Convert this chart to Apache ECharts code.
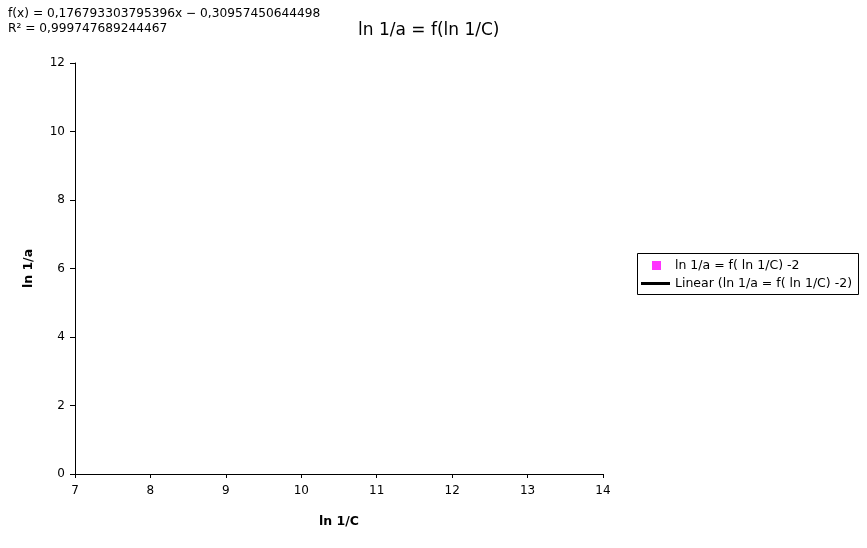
<!DOCTYPE html>
<html>
<head>
<meta charset="utf-8">
<script src="https://cdn.jsdelivr.net/npm/echarts@6/dist/echarts.min.js"></script>
<style>html,body{margin:0;padding:0;background:#fff;}#c{width:867px;height:548px;}</style>
</head>
<body>
<div id="c"></div>
<script>
// Data (the reference plot shows no visible points)
var xValues = [];
var yValues = [];
var xTicks = [7, 8, 9, 10, 11, 12, 13, 14];
var yTicks = [0, 2, 4, 6, 8, 10, 12];
var seriesName = 'ln 1/a = f( ln 1/C) -2';
var trendName = 'Linear (ln 1/a = f( ln 1/C) -2)';
var equationText = 'f(x) = 0,176793303795396x \u2212 0,30957450644498';
var r2Text = 'R\u00b2 = 0,999747689244467';
var slope = 0.176793303795396, intercept = -0.30957450644498;

var pts = xValues.map(function(x, i){ return [x, yValues[i]]; });
var trend = xValues.length ? [[Math.min.apply(null,xValues), slope*Math.min.apply(null,xValues)+intercept],[Math.max.apply(null,xValues), slope*Math.max.apply(null,xValues)+intercept]] : [];

var font = 'DejaVu Sans';
var chart = echarts.init(document.getElementById('c'), null, {renderer:'canvas'});
chart.setOption({
  animation: false,
  backgroundColor: '#fff',
  textStyle: {fontFamily: font},
  title: [
    {text: 'ln 1/a = f(ln 1/C)', left: 353, top: 17, padding: 5,
     textStyle: {fontFamily: font, fontSize: 17, fontWeight: 500, color: '#000'}},
    {text: equationText + '\n' + r2Text, left: 3, top: 1, padding: 5,
     textStyle: {fontFamily: font, fontSize: 12.2, fontWeight: 'normal', color: '#000', lineHeight: 15}}
  ],
  grid: {left: 75, top: 63, right: 264, bottom: 74, containLabel: false},
  xAxis: {
    type: 'value', min: xTicks[0], max: xTicks[xTicks.length-1], interval: 1,
    name: 'ln 1/C', nameLocation: 'middle', nameGap: 41,
    nameTextStyle: {fontFamily: font, fontSize: 12.5, fontWeight: 'bold', color: '#000'},
    axisLine: {onZero: false, lineStyle: {color: '#000', width: 1}},
    axisTick: {show: true, length: 4, inside: false, lineStyle: {color: '#000'}},
    axisLabel: {fontFamily: font, fontSize: 12, color: '#000', margin: 11},
    splitLine: {show: false}
  },
  yAxis: {
    type: 'value', min: yTicks[0], max: yTicks[yTicks.length-1], interval: 2,
    name: 'ln 1/a', nameLocation: 'middle', nameGap: 40, nameRotate: 90,
    nameTextStyle: {fontFamily: font, fontSize: 12.5, fontWeight: 'bold', color: '#000'},
    axisLine: {show: true, onZero: false, lineStyle: {color: '#000', width: 1}},
    axisTick: {show: true, length: 5, inside: false, lineStyle: {color: '#000'}},
    axisLabel: {fontFamily: font, fontSize: 12, color: '#000', margin: 10},
    splitLine: {show: false}
  },
  legend: [
    {data: [{name: seriesName, icon: 'rect'}], left: 652, top: 259, padding: 0,
     itemWidth: 9, itemHeight: 9, selectedMode: false,
     textStyle: {fontFamily: font, fontSize: 12.5, color: '#000', padding: [0,0,0,9]}},
    {data: [{name: trendName, icon: 'rect'}], left: 641, top: 277, padding: 0,
     itemWidth: 29, itemHeight: 3, selectedMode: false,
     textStyle: {fontFamily: font, fontSize: 12.5, color: '#000'}}
  ],
  graphic: [
    {type: 'rect', shape: {x: 637.5, y: 253.5, width: 221, height: 41},
     style: {fill: null, stroke: '#000', lineWidth: 1}, z: 0, silent: true}
  ],
  series: [
    {name: seriesName, type: 'scatter', data: pts, symbol: 'rect', symbolSize: 7,
     itemStyle: {color: '#ff00ff'}},
    {name: trendName, type: 'line', data: trend, showSymbol: false, symbol: 'none',
     lineStyle: {color: '#000', width: 3}, itemStyle: {color: '#000'}}
  ]
});
</script>
</body>
</html>
